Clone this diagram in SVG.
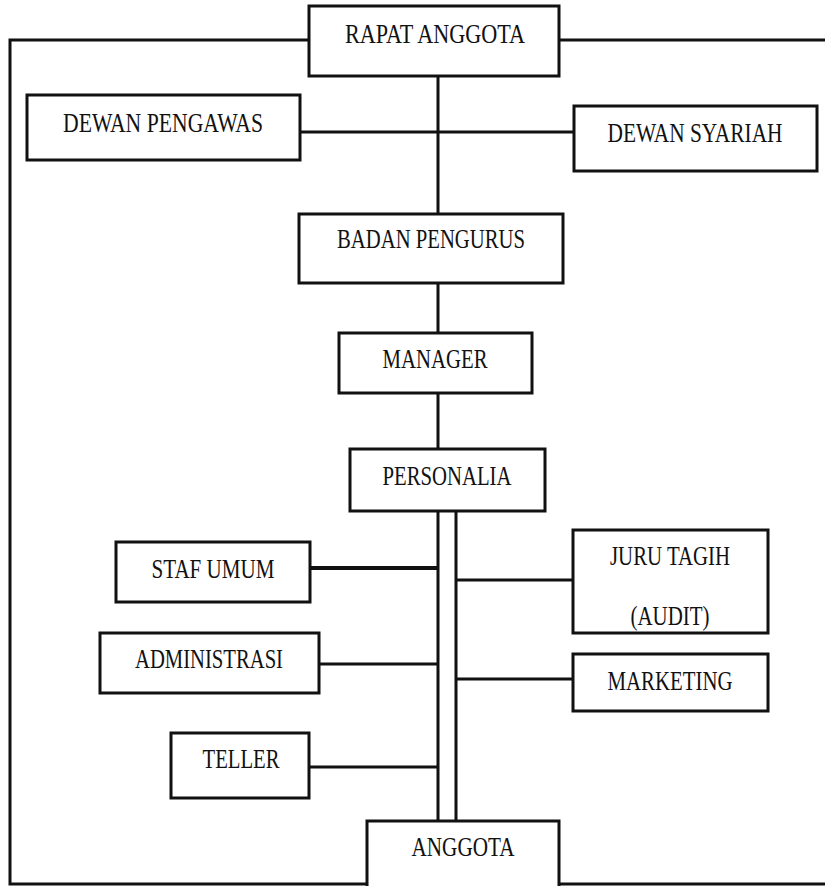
<svg xmlns="http://www.w3.org/2000/svg" width="825" height="886" viewBox="0 0 825 886">
<style>
.box{fill:#fff;stroke:#111;stroke-width:3}
.ln{fill:none;stroke:#111;stroke-width:3}
.t{font-family:"Liberation Serif","Times New Roman",serif;font-size:27px;fill:#111;text-anchor:middle}
</style>
<rect width="825" height="886" fill="#fff"/>
<g id="connectors">
<path class="ln" d="M309 40 H10 V884 H367 M559 40 H825 M559 884 H825"/>
<path class="ln" d="M438 76 V214 M300 132 H574 M438 283 V333 M438 393 V449"/>
<path class="ln" d="M438 511 V821 M456 511 V821"/>
<path class="ln" style="stroke-width:4" d="M310 568 H438"/>
<path class="ln" d="M319 664 H438 M309 767 H438 M456 580 H573 M456 679 H573"/>
</g>
<g id="rapat-anggota"><rect class="box" x="309" y="6" width="250" height="70"/><text class="t" x="435" y="43" textLength="180" lengthAdjust="spacingAndGlyphs">RAPAT ANGGOTA</text></g>
<g id="dewan-pengawas"><rect class="box" x="27" y="95" width="273" height="65"/><text class="t" x="163" y="132" textLength="200" lengthAdjust="spacingAndGlyphs">DEWAN PENGAWAS</text></g>
<g id="dewan-syariah"><rect class="box" x="574" y="106" width="243" height="65"/><text class="t" x="695" y="142" textLength="175" lengthAdjust="spacingAndGlyphs">DEWAN SYARIAH</text></g>
<g id="badan-pengurus"><rect class="box" x="299" y="214" width="264" height="69"/><text class="t" x="431" y="248" textLength="188" lengthAdjust="spacingAndGlyphs">BADAN PENGURUS</text></g>
<g id="manager"><rect class="box" x="339" y="333" width="193" height="60"/><text class="t" x="435" y="368" textLength="105" lengthAdjust="spacingAndGlyphs">MANAGER</text></g>
<g id="personalia"><rect class="box" x="350" y="449" width="195" height="62"/><text class="t" x="447" y="485" textLength="129" lengthAdjust="spacingAndGlyphs">PERSONALIA</text></g>
<g id="staf-umum"><rect class="box" x="116" y="542" width="194" height="60"/><text class="t" x="213" y="578" textLength="123" lengthAdjust="spacingAndGlyphs">STAF UMUM</text></g>
<g id="administrasi"><rect class="box" x="100" y="633" width="219" height="60"/><text class="t" x="209" y="668" textLength="148" lengthAdjust="spacingAndGlyphs">ADMINISTRASI</text></g>
<g id="teller"><rect class="box" x="171" y="733" width="138" height="65"/><text class="t" x="241" y="768" textLength="77" lengthAdjust="spacingAndGlyphs">TELLER</text></g>
<g id="juru-tagih"><rect class="box" x="573" y="530" width="195" height="103"/><text class="t" x="670" y="565" textLength="120" lengthAdjust="spacingAndGlyphs">JURU TAGIH</text><text class="t" x="670" y="625" textLength="79" lengthAdjust="spacingAndGlyphs">(AUDIT)</text></g>
<g id="marketing"><rect class="box" x="573" y="654" width="195" height="57"/><text class="t" x="670" y="690" textLength="125" lengthAdjust="spacingAndGlyphs">MARKETING</text></g>
<g id="anggota"><rect class="box" x="367" y="821" width="192" height="75"/><text class="t" x="463" y="856" textLength="103" lengthAdjust="spacingAndGlyphs">ANGGOTA</text></g>
</svg>
